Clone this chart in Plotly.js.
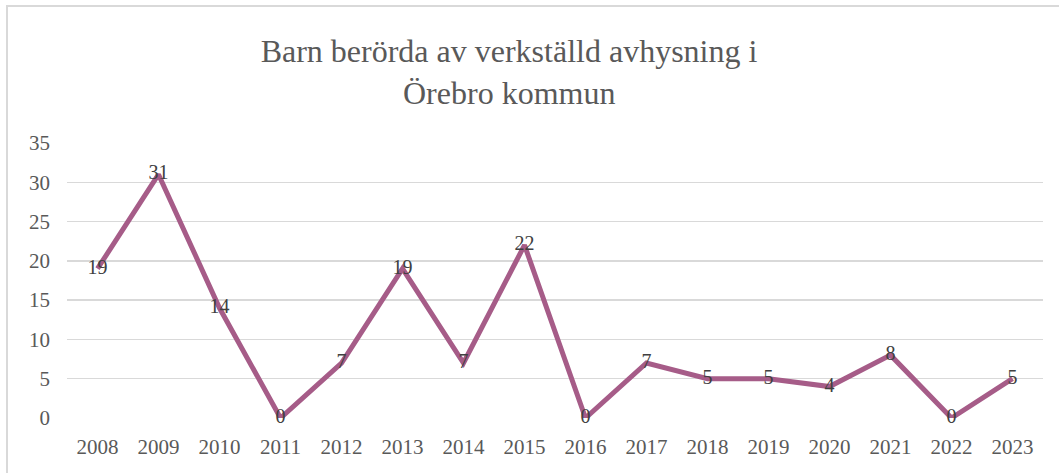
<!DOCTYPE html>
<html>
<head>
<meta charset="utf-8">
<script src="https://cdn.plot.ly/plotly-3.0.1.min.js"></script>
<style>html,body{margin:0;padding:0;background:#fff;}#chart{width:1059px;height:473px;}</style>
</head>
<body>
<div id="chart"></div>
<script>
const years = ["2008","2009","2010","2011","2012","2013","2014","2015","2016","2017","2018","2019","2020","2021","2022","2023"];
const children = [19,31,14,0,7,19,7,22,0,7,5,5,4,8,0,5];
const titleLine1 = "Barn berörda av verkställd avhysning i";
const titleLine2 = "Örebro kommun";
const yTicks = [0,5,10,15,20,25,30,35];

const serif = "Liberation Serif, serif";
const L = 67, R = 16, T = 143, B = 55, W = 1059, H = 473;
const pw = W - L - R, ph = H - T - B;
const px = v => (v - L) / pw;
const py = v => (H - B - v) / ph;

const trace = {
  x: years,
  y: children,
  type: "scatter",
  mode: "lines+text",
  text: children.map(String),
  textposition: "middle center",
  textfont: {family: serif, size: 20, color: "#404040"},
  line: {color: "#A65C88", width: 5},
  cliponaxis: false,
  hoverinfo: "x+y"
};

const layout = {
  width: W, height: H,
  margin: {l: L, r: R, t: T, b: B},
  paper_bgcolor: "#ffffff",
  plot_bgcolor: "#ffffff",
  showlegend: false,
  font: {family: serif, color: "#595959"},
  title: {
    text: titleLine1,
    font: {family: serif, size: 32, color: "#595959"},
    xref: "container", yref: "container",
    x: 509 / W, xanchor: "center",
    y: 1 - 62 / H, yanchor: "bottom"
  },
  annotations: [{
    text: titleLine2,
    xref: "paper", yref: "paper",
    x: px(509), y: py(113),
    xanchor: "center", yanchor: "bottom",
    showarrow: false,
    font: {family: serif, size: 32, color: "#595959"}
  }],
  xaxis: {
    type: "category",
    range: [-0.5, years.length - 0.5],
    showgrid: false,
    showline: false,
    zeroline: false,
    ticks: "",
    ticklabelstandoff: 14,
    tickfont: {family: serif, size: 21, color: "#595959"}
  },
  yaxis: {
    range: [0, 35],
    tickvals: yTicks,
    showgrid: true,
    gridcolor: "#d9d9d9",
    gridwidth: 1.5,
    zeroline: false,
    showline: false,
    ticks: "",
    ticklabelstandoff: 16,
    tickfont: {family: serif, size: 21, color: "#595959"}
  },
  shapes: [
    {type: "line", xref: "paper", yref: "paper", x0: px(6), x1: px(1060), y0: py(6), y1: py(6), line: {color: "#d9d9d9", width: 2}},
    {type: "line", xref: "paper", yref: "paper", x0: px(7), x1: px(7), y0: py(6), y1: py(474), line: {color: "#d9d9d9", width: 2}}
  ]
};

Plotly.newPlot("chart", [trace], layout, {displayModeBar: false, staticPlot: true});
</script>
</body>
</html>
